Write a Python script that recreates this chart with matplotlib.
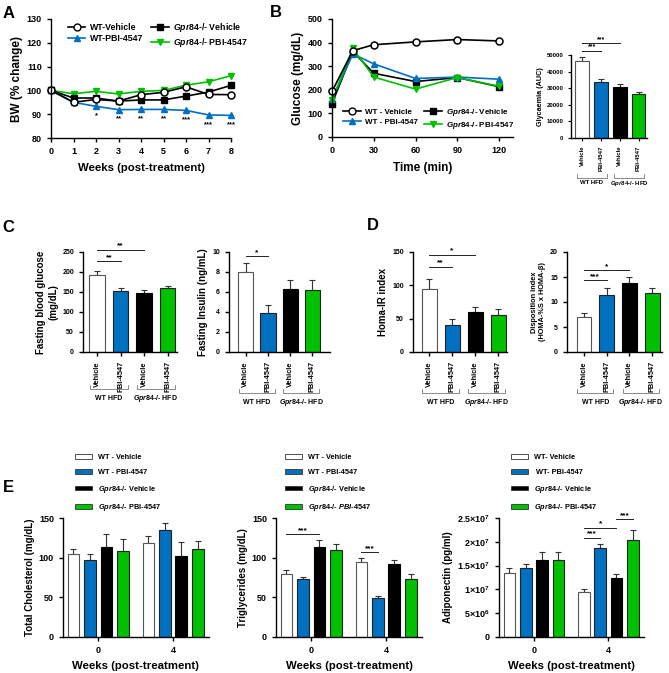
import numpy as np
import matplotlib
matplotlib.use("Agg")
import matplotlib.pyplot as plt
from matplotlib.lines import Line2D
from matplotlib.patches import Patch

plt.rcParams['font.family'] = ['Liberation Sans', 'DejaVu Sans']
plt.rcParams['font.weight'] = 'bold'
plt.rcParams['axes.labelweight'] = 'bold'
plt.rcParams['mathtext.fontset'] = 'custom'
plt.rcParams['mathtext.rm'] = 'Liberation Sans:bold'
plt.rcParams['mathtext.it'] = 'Liberation Sans:italic:bold'
plt.rcParams['mathtext.bf'] = 'Liberation Sans:bold'

# ---- data ----
weeks = [0, 1, 2, 3, 4, 5, 6, 7, 8]
bw_wt_veh = [100, 95.0, 96.2, 95.5, 98.2, 99.2, 101.5, 98.3, 98.2]
bw_wt_pbi = [100, 95.0, 93.3, 91.9, 92.0, 92.0, 91.6, 89.7, 89.5]
bw_ko_veh = [100, 96.8, 96.8, 95.5, 96.0, 96.0, 97.6, 99.3, 102.1]
bw_ko_pbi = [100, 98.6, 99.6, 98.5, 99.6, 100.0, 102.2, 103.6, 106.2]
bw_stars = ['', '', '*', '**', '**', '**', '***', '***', '***']

gtt_time = [0, 15, 30, 60, 90, 120]
glu_wt_veh = [193, 366, 391, 403, 413, 407]
glu_wt_pbi = [160, 352, 310, 248, 254, 245]
glu_ko_veh = [141, 362, 270, 235, 252, 213]
glu_ko_pbi = [158, 375, 254, 203, 252, 215]

auc_mean = [46570, 33470, 30440, 26210]
auc_sem = [2020, 1810, 1820, 1610]

fbg_mean = [193, 153, 148, 159]
fbg_sem = [10, 8, 7, 5]
ins_mean = [8.05, 3.9, 6.34, 6.17]
ins_sem = [0.85, 0.76, 0.84, 1.0]
homa_mean = [94, 40, 60, 56]
homa_sem = [15, 10, 8, 9]
di_mean = [7.05, 11.4, 13.9, 11.74]
di_sem = [0.85, 1.35, 1.07, 1.16]

e_weeks = ['0', '4']
chol_mean = [[105, 97, 113.5, 109], [119, 135, 102, 111.5]]
chol_sem = [[6.5, 8, 16, 14], [8.4, 9, 17.4, 9.5]]
tg_mean = [[80, 73.7, 113.5, 110], [94, 48.6, 92, 72.5]]
tg_sem = [[4, 2.3, 8.5, 7], [5, 2.9, 5.6, 7.5]]
adipo_mean = [[1.348e7, 1.46e7, 1.62e7, 1.62e7], [0.95e7, 1.88e7, 1.23e7, 2.03e7]]
adipo_sem = [[0.11e7, 0.08e7, 0.17e7, 0.17e7], [0.05e7, 0.08e7, 0.10e7, 0.21e7]]

BLUE = '#0070C0'
GREEN = '#00C000'
bar_colors = ['white', BLUE, 'black', GREEN]
bar_edges = ['#555555', '#222222', 'black', '#222222']
KO = r'$\mathit{Gpr84}$-/-'

W, H = 669, 673
fig = plt.figure(figsize=(W / 100, H / 100), dpi=100)


def add_ax(l, t, r, b):
    ax = fig.add_axes([l / W, 1 - b / H, (r - l) / W, (b - t) / H])
    ax.spines['top'].set_visible(False)
    ax.spines['right'].set_visible(False)
    for s in ('left', 'bottom'):
        ax.spines[s].set_linewidth(1.0)
    ax.tick_params(direction='out', length=3, width=1.0)
    ax._hpx = b - t
    return ax


def sig(ax, x1, x2, y, txt, fs=6):
    ax.plot([x1, x2], [y, y], color='#222222', lw=0.7, clip_on=False)
    ax.text((x1 + x2) / 2, y, txt, ha='center', va='bottom', fontsize=fs, clip_on=False)


def group_bars(ax, means, sems, width, fs_tick, line_off, text_off, fs_group):
    x = np.arange(4)
    ax.bar(x, means, width=width, color=bar_colors, edgecolor=bar_edges, linewidth=0.8, zorder=2)
    ax.errorbar(x, means, yerr=[np.zeros(4), sems], fmt='none', ecolor='#333333',
                elinewidth=0.8, capsize=2.5, capthick=0.8, zorder=1)
    ax.set_xticks(x)
    ax.set_xticklabels(['Vehicle', 'PBI-4547'] * 2, rotation=90, fontsize=fs_tick)
    tr = ax.get_xaxis_transform()
    yl = -line_off / ax._hpx
    yt = -(line_off - 4) / ax._hpx
    ytx = -text_off / ax._hpx
    for (a, b), name in zip([(0, 1), (2, 3)], ['WT HFD', KO + ' HFD']):
        xs = [a - 0.3, a - 0.3, b + 0.3, b + 0.3]
        ax.plot(xs, [yt, yl, yl, yt], color='#777777', lw=0.6, transform=tr, clip_on=False)
        ax.text((a + b) / 2, ytx, name, ha='center', va='center', fontsize=fs_group,
                transform=tr)


def week_bars(ax, means, sems):
    for g in range(2):
        for i in range(4):
            xp = g + (i - 1.5) * 0.22
            ax.bar(xp, means[g][i], width=0.155, color=bar_colors[i], edgecolor=bar_edges[i],
                   linewidth=0.8, zorder=2)
            ax.errorbar(xp, means[g][i], yerr=[[0], [sems[g][i]]], fmt='none', ecolor='#333333',
                        elinewidth=0.8, capsize=2.2, capthick=0.8, zorder=1)
    ax.set_xticks([0, 1])
    ax.set_xticklabels(e_weeks, fontsize=6.5)
    ax.set_xlim(-0.47, 1.48)
    ax.tick_params(axis='y', labelsize=6.5)
    ax.set_xlabel('Weeks (post-treatment)', fontsize=8.2, labelpad=4)


def bxp(g, i):
    return g + (i - 1.5) * 0.22


# ---- A: body weight ----
axA = add_ax(51, 19, 231, 138)
axA.plot(weeks, bw_ko_pbi, color=GREEN, lw=1.2, marker='v', ms=5, mfc=GREEN, mec=GREEN, clip_on=False)
axA.plot(weeks, bw_ko_veh, color='black', lw=1.2, marker='s', ms=4.5, mfc='black', clip_on=False)
axA.plot(weeks, bw_wt_pbi, color=BLUE, lw=1.2, marker='^', ms=4.5, mfc=BLUE, mec=BLUE, clip_on=False)
axA.plot(weeks, bw_wt_veh, color='black', lw=1.2, marker='o', ms=5, mfc='white', mec='black',
         mew=1.1, clip_on=False)
for w, v, s in zip(weeks, bw_wt_pbi, bw_stars):
    if s:
        axA.text(w, v - 4.0, s, ha='center', va='center', fontsize=5.5)
axA.set_xlim(0, 8)
axA.set_ylim(80, 130)
axA.set_xticks(weeks)
axA.set_yticks([80, 90, 100, 110, 120, 130])
axA.tick_params(labelsize=6.5)
axA.set_xlabel('Weeks (post-treatment)', fontsize=8.2, labelpad=5)
axA.set_ylabel('BW (% change)', fontsize=8.5, labelpad=3)
hA = [Line2D([], [], color='black', marker='o', mfc='white', mec='black', ms=5, lw=1.2),
      Line2D([], [], color=BLUE, marker='^', mfc=BLUE, mec=BLUE, ms=4.5, lw=1.2),
      Line2D([], [], color='black', marker='s', mfc='black', ms=4.5, lw=1.2),
      Line2D([], [], color=GREEN, marker='v', mfc=GREEN, mec=GREEN, ms=5, lw=1.2)]
axA.legend(hA, ['WT-Vehicle', 'WT-PBI-4547', KO + ' Vehicle', KO + ' PBI-4547'], ncol=2,
           loc='upper left', bbox_to_anchor=(0.05, 1.05), frameon=False, fontsize=6.3,
           handlelength=2.0, columnspacing=0.9, labelspacing=0.2, handletextpad=0.5)

# ---- B: GTT ----
axB = add_ax(332, 19, 513, 137)
axB.plot(gtt_time, glu_ko_veh, color='black', lw=1.2, marker='s', ms=4.5, mfc='black', clip_on=False)
axB.plot(gtt_time, glu_wt_pbi, color=BLUE, lw=1.2, marker='^', ms=4.5, mfc=BLUE, mec=BLUE, clip_on=False)
axB.plot(gtt_time, glu_ko_pbi, color=GREEN, lw=1.2, marker='v', ms=5, mfc=GREEN, mec=GREEN, clip_on=False)
axB.plot(gtt_time, glu_wt_veh, color='black', lw=1.2, marker='o', ms=5, mfc='white', mec='black',
         mew=1.1, clip_on=False)
axB.set_xlim(0, 130)
axB.set_ylim(0, 500)
axB.set_xticks([0, 30, 60, 90, 120])
axB.set_yticks([0, 100, 200, 300, 400, 500])
axB.tick_params(labelsize=6.5)
axB.set_xlabel('Time (min)', fontsize=8.5, labelpad=5)
axB.set_ylabel('Glucose (mg/dL)', fontsize=8.5, labelpad=3)
axB.legend(hA, ['WT - Vehicle', 'WT - PBI-4547', KO + ' Vehicle', KO + ' PBI-4547'], ncol=2,
           loc='lower left', bbox_to_anchor=(0.02, -0.01), frameon=False, fontsize=5.8,
           handlelength=2.2, columnspacing=0.8, labelspacing=0.2, handletextpad=0.5)

# ---- B inset: AUC ----
axBi = add_ax(571, 55, 647, 138)
axBi.tick_params(length=2, width=0.8, labelsize=4.3)
group_bars(axBi, auc_mean, auc_sem, 0.74, 4.3, 40, 45, 4.3)
axBi.set_xlim(-0.6, 3.45)
axBi.set_ylim(0, 50000)
axBi.set_yticks([0, 10000, 20000, 30000, 40000, 50000])
axBi.set_ylabel('Glycaemia (AUC)', fontsize=5.2, labelpad=2)
sig(axBi, 0, 1, 52600, '***', 5)
sig(axBi, 0, 2, 57000, '***', 5)

# ---- C ----
axC1 = add_ax(83, 252, 177, 352)
axC1.tick_params(labelsize=5)
group_bars(axC1, fbg_mean, fbg_sem, 0.65, 5.3, 37, 46, 5)
axC1.set_xlim(-0.6, 3.4)
axC1.set_ylim(0, 250)
axC1.set_yticks([0, 50, 100, 150, 200, 250])
axC1.set_ylabel('Fasting blood glucose\n(mg/dL)', fontsize=7, labelpad=3)
sig(axC1, 0, 1, 228, '**')
sig(axC1, 0, 2, 256, '**')

axC2 = add_ax(229, 252, 330, 352)
axC2.tick_params(labelsize=5)
group_bars(axC2, ins_mean, ins_sem, 0.68, 5.3, 41, 50, 5)
axC2.set_xlim(-0.76, 3.8)
axC2.set_ylim(0, 10)
axC2.set_yticks([0, 2, 4, 6, 8, 10])
axC2.set_ylabel('Fasting Insulin (ng/mL)', fontsize=7, labelpad=3)
sig(axC2, 0, 1, 9.56, '*')

# ---- D ----
axD1 = add_ax(413, 252, 507, 352)
axD1.tick_params(labelsize=5)
group_bars(axD1, homa_mean, homa_sem, 0.65, 5.3, 41, 50, 5)
axD1.set_xlim(-0.7, 3.39)
axD1.set_ylim(0, 150)
axD1.set_yticks([0, 50, 100, 150])
axD1.set_ylabel('Homa-IR index', fontsize=7, labelpad=3)
sig(axD1, 0, 1, 128, '**')
sig(axD1, 0, 2, 146, '*')

axD2 = add_ax(567, 252, 662, 352)
axD2.tick_params(labelsize=5)
group_bars(axD2, di_mean, di_sem, 0.66, 5.3, 41, 50, 5)
axD2.set_xlim(-0.75, 3.44)
axD2.set_ylim(0, 20)
axD2.set_yticks([0, 5, 10, 15, 20])
axD2.set_ylabel('Disposition index\n(HOMA-%S x HOMA-\u03b2)', fontsize=5.3, labelpad=3)
sig(axD2, 0, 1, 14.4, '***')
sig(axD2, 0, 2, 16.4, '*')

# ---- E ----
hE = [Patch(facecolor=c, edgecolor='#333333', linewidth=0.6) for c in bar_colors]
leg_kw = dict(loc='lower left', frameon=False, fontsize=5.3, handlelength=2.3, handleheight=0.6,
              labelspacing=1.05, handletextpad=0.9, borderaxespad=0)

axE1 = add_ax(63, 518, 209, 637)
week_bars(axE1, chol_mean, chol_sem)
axE1.set_ylim(0, 150)
axE1.set_yticks([0, 50, 100, 150])
axE1.set_ylabel('Total Cholesterol (mg/dL)', fontsize=7, labelpad=3)
axE1.legend(hE, ['WT - Vehicle', 'WT - PBI-4547', KO + ' Vehicle', KO + ' PBI-4547'],
            bbox_to_anchor=(0.06, 1.015), **leg_kw)

axE2 = add_ax(276, 518, 422, 637)
week_bars(axE2, tg_mean, tg_sem)
axE2.set_ylim(0, 150)
axE2.set_yticks([0, 50, 100, 150])
axE2.set_ylabel('Triglycerides (mg/dL)', fontsize=7, labelpad=3)
axE2.legend(hE, ['WT - Vehicle', 'WT - PBI-4547', KO + ' Vehicle', r'$\mathit{Gpr84}$-/- $\mathit{PBI}$-$\mathit{4547}$'],
            bbox_to_anchor=(0.04, 1.015), **leg_kw)
sig(axE2, bxp(0, 0), bxp(0, 2), 130, '***')
sig(axE2, bxp(1, 0), bxp(1, 1), 107, '***')

axE3 = add_ax(499, 518, 644, 637)
week_bars(axE3, adipo_mean, adipo_sem)
axE3.set_ylim(0, 2.5e7)
axE3.set_yticks([0, 0.5e7, 1e7, 1.5e7, 2e7, 2.5e7])
axE3.set_yticklabels(['0', '5\u00d710$^{6}$', '1\u00d710$^{7}$', '1.5\u00d710$^{7}$',
                      '2\u00d710$^{7}$', '2.5\u00d710$^{7}$'])
axE3.set_ylabel('Adiponectin (pg/ml)', fontsize=7, labelpad=3)
axE3.legend(hE, ['WT- Vehicle', ' WT- PBI-4547', KO + ' Vehicle', KO + ' PBI-4547'],
            bbox_to_anchor=(0.06, 1.015), **leg_kw)
sig(axE3, bxp(1, 0), bxp(1, 1), 2.09e7, '***')
sig(axE3, bxp(1, 0), bxp(1, 2), 2.30e7, '*')
sig(axE3, bxp(1, 2), bxp(1, 3), 2.47e7, '***')

# ---- panel letters ----
for lab, px, py in [('A', 3, 18), ('B', 270, 17), ('C', 2, 232), ('D', 367, 230), ('E', 3, 492)]:
    fig.text(px / W, 1 - py / H, lab, fontsize=12, fontweight='bold', va='baseline', ha='left')

fig.savefig('out.png', dpi=100)
